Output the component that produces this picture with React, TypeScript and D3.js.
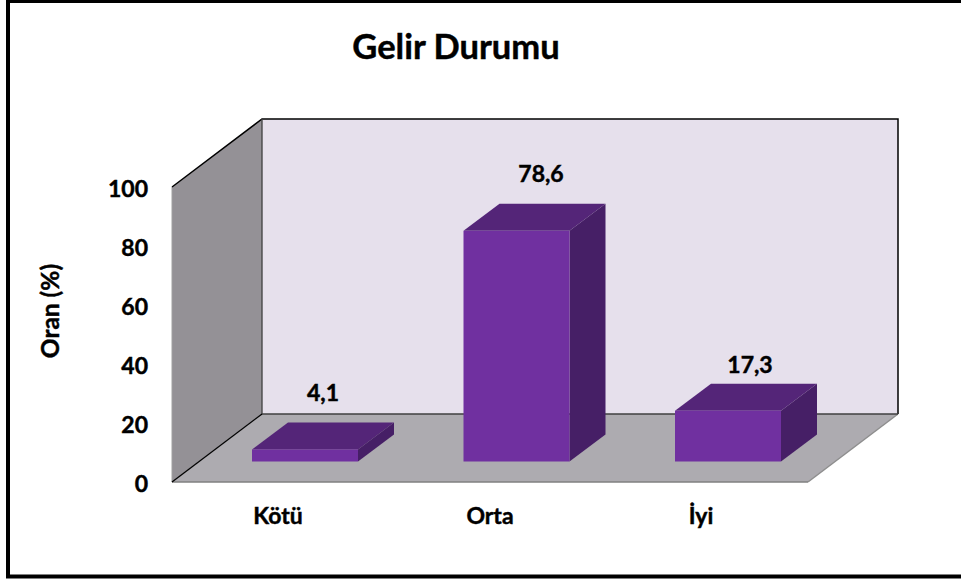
import React from "react";
import * as d3 from "d3";

const categories = ["Kötü", "Orta", "İyi"];
const values = [4.1, 78.6, 17.3];
const valueLabels = ["4,1", "78,6", "17,3"];
const yTicks = [0, 20, 40, 60, 80, 100];
const title = "Gelir Durumu";
const yTitle = "Oran (%)";

const font = "Lato, Carlito, Calibri, sans-serif";
const W = 961, H = 581;
const fx0 = 172, fx1 = 808, fy0 = 482, fy1 = 187;
const wallDx = 90, wallDy = -68;
const barDx = 36, barDy = -27;
const barW = 106;
const barBase = 461.5;

const y = d3.scaleLinear().domain([0, 100]).range([fy0, fy1]);
const barH = d3.scaleLinear().domain([0, 100]).range([0, 293.5]);
const barX = d3.scalePoint<string>().domain(categories).range([252, 675]);
const catLabelX = [278, 490, 701];
const valLabelX = [323, 541, 750];
const valLabelY = [401, 182, 373];
const line = d3.line<[number, number]>();

export default function App() {
  const backTop = fy1 + wallDy, backBottom = fy0 + wallDy;
  const heavy = { stroke: "#000", strokeWidth: 0.45, paintOrder: "stroke" } as const;
  return (
    <svg width={W} height={H} style={{ position: "absolute", left: 0, top: 0, background: "#fff" }} fontFamily={font} fontWeight={700} fill="#000">
      <path d={line([[8, 1], [W + 4, 1], [W + 4, 576.5], [8, 576.5]])! + "Z"} fill="#fff" stroke="#000" strokeWidth={4} />
      {/* back wall */}
      <path d={line([[fx0 + wallDx, backTop], [fx1 + wallDx, backTop], [fx1 + wallDx, backBottom], [fx0 + wallDx, backBottom]])! + "Z"} fill="#e6e0ec" stroke="none" />
      {/* side wall */}
      <path d={line([[fx0, fy1], [fx0 + wallDx, backTop], [fx0 + wallDx, backBottom], [fx0, fy0]])! + "Z"} fill="#949196" stroke="none" />
      {/* floor */}
      <path d={line([[fx0, fy0], [fx0 + wallDx, backBottom], [fx1 + wallDx, backBottom], [fx1, fy0]])! + "Z"} fill="#adabb0" stroke="none" />
      <path d={line([[fx1, fy0], [fx1 + wallDx, backBottom]])!} stroke="#8e8e8e" strokeWidth={1.5} fill="none" />
      <path d={line([[fx0, fy0], [fx1, fy0]])!} stroke="#808080" strokeWidth={1.5} fill="none" />
      <path d={line([[fx0, fy0], [fx0, fy1]])!} stroke="#a0a0a0" strokeWidth={1} fill="none" />
      {/* wall outlines */}
      <path d={line([[fx0, fy1], [fx0 + wallDx, backTop], [fx1 + wallDx, backTop], [fx1 + wallDx, backBottom]])!} stroke="#000" strokeWidth={1.5} fill="none" />
      <path d={line([[fx0 + wallDx, backTop], [fx0 + wallDx, backBottom], [fx1 + wallDx, backBottom]])!} stroke="#404040" strokeWidth={1.3} fill="none" />
      <path d={line([[fx0, fy0], [fx0 + wallDx, backBottom]])!} stroke="#000" strokeWidth={1.3} fill="none" />
      {categories.map((c, i) => {
        const bx = barX(c)!;
        const top = barBase - barH(values[i]);
        return (
          <g key={c}>
            <path d={line([[bx, top], [bx + barDx, top + barDy], [bx + barW + barDx, top + barDy], [bx + barW, top]])! + "Z"} fill="#542578" />
            <path d={line([[bx + barW, top], [bx + barW + barDx, top + barDy], [bx + barW + barDx, barBase + barDy], [bx + barW, barBase]])! + "Z"} fill="#461f66" />
            <rect x={bx} y={top} width={barW} height={barBase - top} fill="#7030a0" />
          </g>
        );
      })}
      {categories.map((c, i) => (
        <text key={c} x={valLabelX[i]} y={valLabelY[i]} textAnchor="middle" fontSize={23} {...heavy}>{valueLabels[i]}</text>
      ))}
      {yTicks.map((t) => (
        <text key={t} x={148} y={y(t) + 10} textAnchor="end" fontSize={23} {...heavy}>{t}</text>
      ))}
      {categories.map((c, i) => (
        <text key={c} x={catLabelX[i]} y={524} textAnchor="middle" fontSize={23} {...heavy}>{c}</text>
      ))}
      <text x={456} y={59} textAnchor="middle" fontSize={34.5} {...heavy}>{title}</text>
      <text transform="translate(59,311) rotate(-90)" textAnchor="middle" fontSize={24.5} {...heavy}>{yTitle}</text>
    </svg>
  );
}
